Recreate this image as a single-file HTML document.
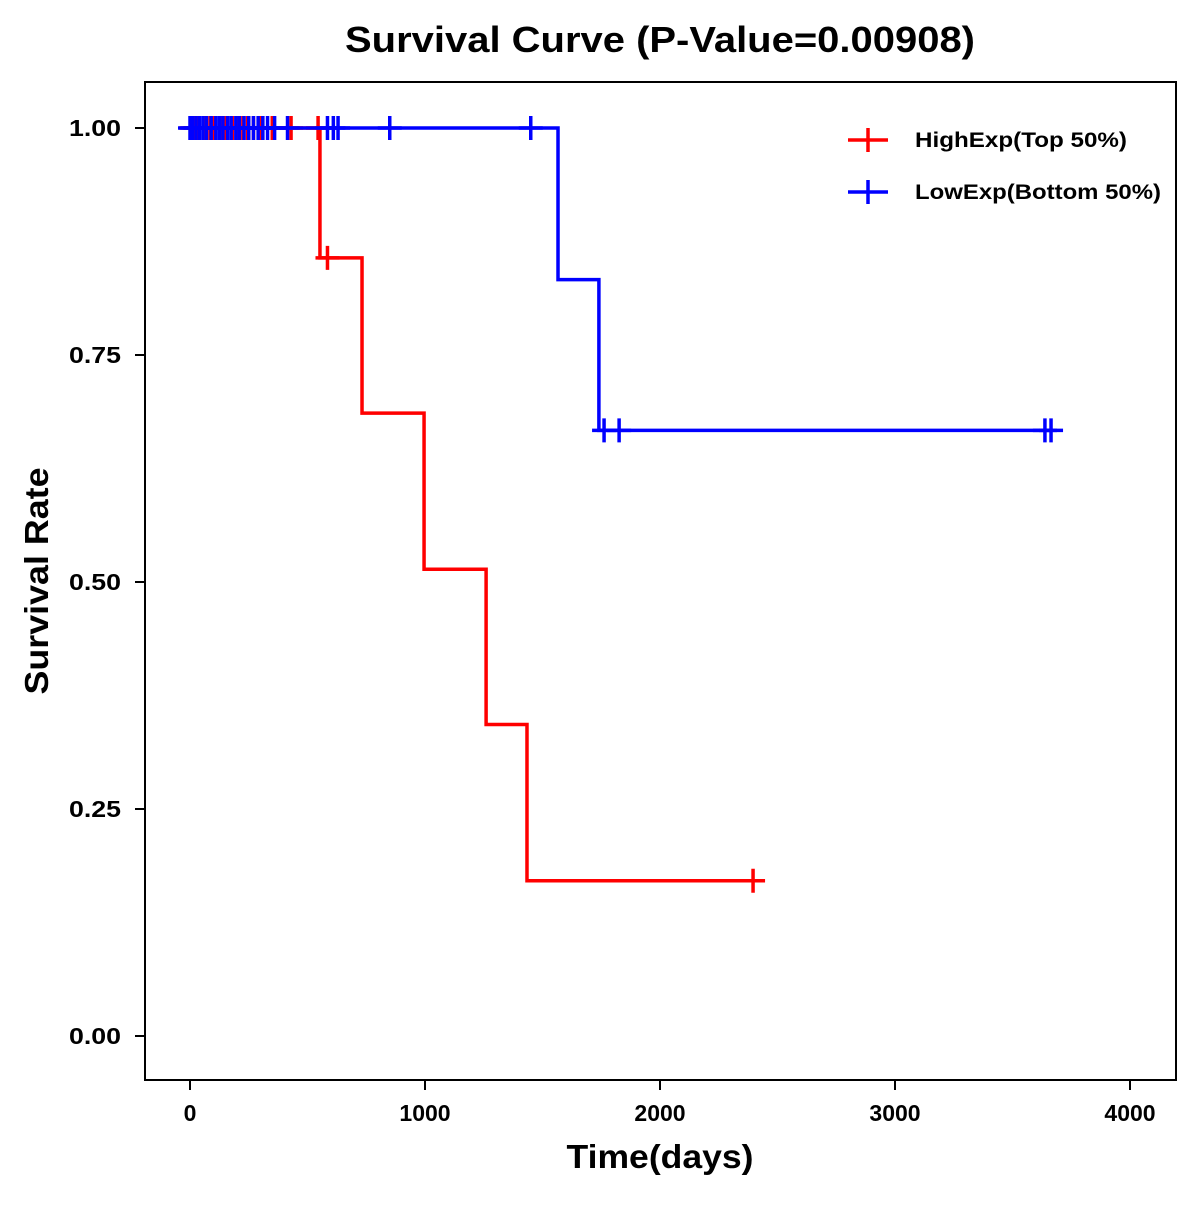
<!DOCTYPE html>
<html><head><meta charset="utf-8"><style>
body{margin:0;background:#fff}
text{font-family:"Liberation Sans",Arial,sans-serif;font-weight:bold}
</style></head><body>
<svg id="c" width="1200" height="1200" xmlns="http://www.w3.org/2000/svg">
<rect x="0" y="0" width="1200" height="1200" fill="#fff"/>
<text x="660" y="52" font-size="36" text-anchor="middle" textLength="630" lengthAdjust="spacingAndGlyphs">Survival Curve (P-Value=0.00908)</text>
<rect x="145" y="82" width="1031" height="998" fill="none" stroke="#000" stroke-width="2"/>
<g id="axes"></g>
<g id="series"></g>
<text x="660" y="1168" font-size="33" text-anchor="middle" textLength="187" lengthAdjust="spacingAndGlyphs">Time(days)</text>
<text transform="translate(48,581) rotate(-90)" font-size="33" text-anchor="middle" textLength="227" lengthAdjust="spacingAndGlyphs">Survival Rate</text>
<g>
<g>
<line x1="848" y1="140" x2="888" y2="140" stroke="#f00" stroke-width="3.5"/><line x1="868" y1="128" x2="868" y2="152" stroke="#f00" stroke-width="3.5"/>
<text x="915" y="147" font-size="21" textLength="212" lengthAdjust="spacingAndGlyphs">HighExp(Top 50%)</text></g>
<g>
<line x1="848" y1="192" x2="888" y2="192" stroke="#00f" stroke-width="3.5"/><line x1="868" y1="180" x2="868" y2="204" stroke="#00f" stroke-width="3.5"/>
<text x="915" y="199" font-size="21" textLength="246" lengthAdjust="spacingAndGlyphs">LowExp(Bottom 50%)</text></g>
</g>
</svg>
<script>
const xTicks=[0,1000,2000,3000,4000];
const yTicks=[0,0.25,0.5,0.75,1];
const yTickLabels=["0.00","0.25","0.50","0.75","1.00"];
const highTimes=[553,732,996,1260,1434];
const highSurv=[0.857,0.686,0.514,0.343,0.171];
const highEnd=2396;
const highCensor=[5,20,35,60,85,100,130,150,180,200,225,245,270,300,350,430,545,585,2396];
const lowTimes=[1566,1740];
const lowSurv=[0.833,0.667];
const lowEnd=3664;
const lowCensor=[0,10,25,40,55,70,90,110,125,140,160,175,195,210,230,250,270,290,310,330,360,415,585,610,630,850,1450,1762,1826,3638,3664];
const X=t=>190+t*0.235, Y=s=>1036-s*908;
const NS="http://www.w3.org/2000/svg";
function mk(tag,attrs,parent){const e=document.createElementNS(NS,tag);for(const k in attrs)e.setAttribute(k,attrs[k]);parent.appendChild(e);return e;}
const ax=document.getElementById('axes'),sr=document.getElementById('series');
xTicks.forEach(t=>{
 const l=mk('line',{x1:X(t),x2:X(t),y1:1080,y2:1090,stroke:'#000','stroke-width':2},ax);
 
 
 const tx=mk('text',{x:X(t),y:1121,'font-size':23,'text-anchor':'middle'},ax);tx.textContent=t;
 
 
});
yTicks.forEach((v,i)=>{
 const l=mk('line',{x1:135,x2:145,y1:Y(v),y2:Y(v),stroke:'#000','stroke-width':2},ax);
 
 
 const tx=mk('text',{x:121,y:Y(v)+8,'font-size':23,'text-anchor':'end',textLength:52,lengthAdjust:'spacingAndGlyphs'},ax);tx.textContent=yTickLabels[i];
 
 
});
function stepPath(times,surv,end){
 let d='M'+X(0)+','+Y(1);
 times.forEach((t,i)=>{d+=' H'+X(t)+' V'+Y(surv[i]);});
 return d+' H'+X(end);
}
function survAt(t,times,surv){let s=1;times.forEach((tt,i)=>{if(t>=tt)s=surv[i];});return s;}
function draw(times,surv,end,cens,col,name){
 const g=mk('g',{},sr);
 
 
 const p=mk('path',{d:stepPath(times,surv,end),fill:'none',stroke:col,'stroke-width':3.5},g);
 
 
 cens.forEach(t=>{
  const s=survAt(t,times,surv),x=X(t),y=Y(s);
  const c=mk('path',{d:`M${x-12},${y} H${x+12} M${x},${y-12} V${y+12}`,stroke:col,'stroke-width':3.5},g);
  
  
 });
}
draw(highTimes,highSurv,highEnd,highCensor,'#f00','high-exp');
draw(lowTimes,lowSurv,lowEnd,lowCensor,'#00f','low-exp');
</script>
</body></html>
